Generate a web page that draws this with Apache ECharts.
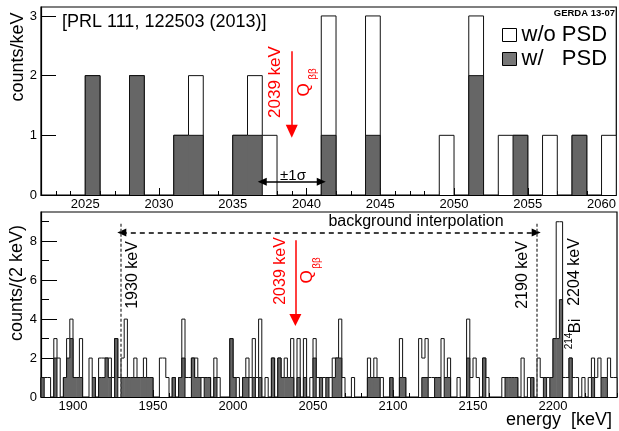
<!DOCTYPE html>
<html>
<head>
<meta charset="utf-8">
<script src="https://cdn.jsdelivr.net/npm/echarts@6/dist/echarts.min.js"></script>
<style>
html, body { margin: 0; padding: 0; background: #fff; }
#chart { width: 619px; height: 431px; }
</style>
</head>
<body>
<div id="chart"></div>
<script>
// top panel, 1 keV bins (lower edge) around Qbb
var topBins    = [2025, 2028, 2031, 2032, 2035, 2036, 2037, 2041, 2044, 2049, 2051, 2053, 2054, 2056, 2058, 2060];
var topNoPSD   = [2,    2,    1,    2,    1,    2,    1,    3,    3,    1,    3,    1,    1,    1,    1,    1];
var topWithPSD = [2,    2,    1,    1,    1,    1,    0,    1,    1,    0,    2,    0,    1,    0,    1,    0];

// bottom panel, 2 keV bins (lower edge), only non-empty bins
var botBins = [1880, 1882, 1884, 1888, 1890, 1894, 1896, 1898, 1900, 1902, 1904, 1910, 1912, 1916, 1918, 1920,
  1922, 1924, 1926, 1928, 1930, 1932, 1934, 1936, 1938, 1940, 1942, 1944, 1946, 1948, 1954, 1956,
  1958, 1962, 1966, 1968, 1970, 1972, 1974, 1976, 1978, 1980, 1982, 1984, 1988, 1990, 1998, 2000,
  2002, 2006, 2008, 2010, 2012, 2014, 2016, 2020, 2024, 2028, 2030, 2032, 2034, 2036, 2040, 2044,
  2048, 2050, 2052, 2054, 2056, 2058, 2060, 2062, 2064, 2066, 2068, 2074, 2084, 2086, 2088, 2090,
  2092, 2098, 2104, 2106, 2116, 2118, 2120, 2122, 2124, 2126, 2128, 2130, 2132, 2134, 2140, 2146,
  2148, 2150, 2152, 2156, 2158, 2168, 2170, 2172, 2174, 2176, 2180, 2184, 2186, 2190, 2192, 2194,
  2196, 2198, 2200, 2202, 2204, 2206, 2208, 2210, 2212, 2214, 2218, 2222, 2224, 2226, 2228, 2230,
  2232, 2234, 2236, 2238];
var botNoPSD = [1, 1, 1, 3, 2, 1, 3, 4, 1, 1, 3, 2, 1, 2, 2, 2,
  2, 1, 3, 1, 2, 4, 1, 1, 2, 1, 1, 2, 1, 1, 2, 2,
  1, 1, 1, 4, 1, 1, 2, 2, 1, 1, 1, 1, 2, 1, 3, 1,
  1, 1, 2, 1, 3, 1, 4, 1, 2, 2, 1, 2, 1, 3, 3, 3,
  1, 3, 1, 1, 1, 1, 1, 2, 2, 4, 1, 1, 2, 1, 2, 1,
  1, 1, 3, 1, 3, 2, 3, 1, 1, 1, 1, 3, 1, 2, 1, 4,
  1, 2, 1, 2, 1, 1, 1, 1, 1, 1, 2, 1, 1, 2, 1, 1,
  1, 1, 3, 9, 9, 1, 1, 2, 1, 1, 1, 1, 2, 1, 2, 1,
  1, 2, 1, 1];
var botWithPSD = [1, 0, 0, 2, 0, 1, 2, 3, 1, 1, 1, 0, 1, 1, 1, 2,
  1, 0, 3, 0, 1, 1, 1, 1, 1, 1, 1, 1, 1, 1, 0, 0,
  0, 1, 1, 2, 0, 0, 2, 1, 1, 0, 1, 1, 1, 0, 3, 1,
  0, 1, 1, 0, 1, 0, 1, 0, 2, 2, 1, 1, 1, 1, 1, 1,
  0, 2, 0, 1, 0, 1, 0, 1, 2, 2, 0, 0, 1, 1, 1, 1,
  0, 1, 1, 1, 0, 1, 1, 0, 0, 1, 1, 0, 1, 1, 0, 2,
  0, 0, 0, 2, 0, 0, 1, 1, 1, 1, 0, 0, 1, 0, 0, 1,
  0, 1, 3, 3, 5, 0, 0, 2, 0, 0, 0, 0, 1, 0, 0, 1,
  1, 0, 0, 0];

var topTicks = [2025, 2030, 2035, 2040, 2045, 2050, 2055, 2060];
var botTicks = [1900, 1950, 2000, 2050, 2100, 2150, 2200];
var topYTicks = [0, 1, 2, 3];
var botYTicks = [0, 2, 4, 6, 8];
var botYMinor = [1, 3, 5, 7, 9];

var topMinor = [];
for (var e = 2023; e <= 2060; e++) topMinor.push(e);
var botMinor = [];
for (var f = 1890; f <= 2240; f += 10) botMinor.push(f);

var FONT = "'Liberation Sans', Arial, sans-serif";

function pairs(xs, ys) {
  return xs.map(function (x, i) { return [x, ys[i]]; });
}

// ROOT-like step histogram: filled bins with a single outline
function histItem(bins, counts, binW, fill) {
  var map = {};
  bins.forEach(function (b, i) { map[b] = counts[i]; });
  return function (params, api) {
    var x0 = api.value(0), c = api.value(1);
    if (!c) return null;
    var prev = map[x0 - binW] || 0, next = map[x0 + binW] || 0;
    var tl = api.coord([x0, c]);
    var br = api.coord([x0 + binW, 0]);
    var yPrev = api.coord([x0, prev])[1];
    var pts = [[tl[0], yPrev], [tl[0], tl[1]], [br[0], tl[1]]];
    if (!next) pts.push([br[0], br[1]]);
    // overlap into the next bin a little so no seam shows between fills
    var w = br[0] - tl[0] + (next ? 0.6 : 0);
    return {
      type: 'group',
      children: [
        { type: 'rect', shape: { x: tl[0], y: tl[1], width: w, height: br[1] - tl[1] }, style: { fill: fill } },
        { type: 'polyline', shape: { points: pts }, style: { stroke: '#111', lineWidth: 1, fill: null } }
      ]
    };
  };
}

function plain(v) { return String(v); }

function mainX(grid, min, max, ticks) {
  return {
    type: 'value', gridIndex: grid, min: min, max: max, position: 'bottom',
    axisLine: { show: true, lineStyle: { color: '#000', width: 1.2 } },
    axisTick: { show: true, inside: true, length: 7, customValues: ticks, lineStyle: { color: '#000' } },
    axisLabel: { customValues: ticks, formatter: plain, color: '#000', fontSize: 13, fontFamily: FONT, margin: 3 },
    splitLine: { show: false }
  };
}
function minorX(grid, min, max, ticks) {
  return {
    type: 'value', gridIndex: grid, min: min, max: max, position: 'bottom',
    axisLine: { show: false },
    axisTick: { show: true, inside: true, length: 4, customValues: ticks, lineStyle: { color: '#000' } },
    axisLabel: { show: false },
    splitLine: { show: false }
  };
}
function yAx(grid, max, ticks, len, labels) {
  return {
    type: 'value', gridIndex: grid, min: 0, max: max, position: 'left',
    axisLine: { show: !!labels, lineStyle: { color: '#000', width: 1.2 } },
    axisTick: { show: true, inside: true, length: len, customValues: ticks, lineStyle: { color: '#000' } },
    axisLabel: labels ? { customValues: ticks, formatter: plain, color: '#000', fontSize: 13, fontFamily: FONT, margin: 4 } : { show: false },
    splitLine: { show: false }
  };
}

function arrowLine(from, to, color, type, syms, size) {
  return {
    silent: true,
    symbol: syms,
    symbolSize: size,
    label: { show: false },
    lineStyle: { color: color, type: type, width: 1.5 },
    data: [[{ coord: from }, { coord: to }]]
  };
}

var chart = echarts.init(document.getElementById('chart'), null, { renderer: 'canvas' });

var red = '#ff0000';
function vtext(x, y, txt, size, color, extra) {
  var s = { text: txt, fontSize: size, fontFamily: FONT, fill: color || '#000', align: 'center', verticalAlign: 'middle' };
  if (extra) for (var k in extra) s[k] = extra[k];
  return { type: 'text', x: x, y: y, rotation: Math.PI / 2, style: s, z: 100 };
}
function htext(x, y, txt, size, extra) {
  var s = { text: txt, fontSize: size, fontFamily: FONT, fill: '#000', align: 'left', verticalAlign: 'middle' };
  if (extra) for (var k in extra) s[k] = extra[k];
  return { type: 'text', x: x, y: y, style: s, z: 100 };
}

chart.setOption({
  animation: false,
  backgroundColor: '#fff',
  grid: [
    { left: 41, right: 2, top: 7, bottom: 236, show: true, borderColor: '#000', borderWidth: 1.2, backgroundColor: 'transparent' },
    { left: 41, right: 2, top: 212, bottom: 34, show: true, borderColor: '#000', borderWidth: 1.2, backgroundColor: 'transparent' }
  ],
  legend: {
    left: 497, top: 19, orient: 'vertical', itemWidth: 14, itemHeight: 13, itemGap: 2,
    textStyle: { fontSize: 22, fontFamily: FONT, color: '#000' },
    selectedMode: false,
    data: [
      { name: 'w/o PSD', icon: 'rect', itemStyle: { color: '#fff', borderColor: '#000', borderWidth: 1 } },
      { name: 'w/   PSD', icon: 'rect', itemStyle: { color: '#777', borderColor: '#000', borderWidth: 1 } }
    ]
  },
  xAxis: [
    mainX(0, 2022, 2061, topTicks),
    minorX(0, 2022, 2061, topMinor),
    mainX(1, 1880, 2240, botTicks),
    minorX(1, 1880, 2240, botMinor)
  ],
  yAxis: [
    yAx(0, 3.15, topYTicks, 15, true),
    yAx(1, 9.5, botYTicks, 16, true),
    yAx(1, 9.5, botYMinor, 8, false)
  ],
  series: [
    { name: 'w/o PSD', type: 'custom', xAxisIndex: 0, yAxisIndex: 0, renderItem: histItem(topBins, topNoPSD, 1, '#fff'),
      itemStyle: { color: '#fff' }, data: pairs(topBins, topNoPSD) },
    { name: 'w/   PSD', type: 'custom', xAxisIndex: 0, yAxisIndex: 0, renderItem: histItem(topBins, topWithPSD, 1, '#666'),
      itemStyle: { color: '#666' }, data: pairs(topBins, topWithPSD) },
    { name: 'w/o PSD', type: 'custom', xAxisIndex: 2, yAxisIndex: 1, renderItem: histItem(botBins, botNoPSD, 2, '#fff'),
      itemStyle: { color: '#fff' }, data: pairs(botBins, botNoPSD) },
    { name: 'w/   PSD', type: 'custom', xAxisIndex: 2, yAxisIndex: 1, renderItem: histItem(botBins, botWithPSD, 2, '#666'),
      itemStyle: { color: '#666' }, data: pairs(botBins, botWithPSD) },
    // annotation lines, top panel
    { type: 'line', xAxisIndex: 0, yAxisIndex: 0, data: [], z: 5,
      markLine: arrowLine([2039, 2.41], [2039, 1.07], red, 'solid', ['none', 'triangle'], [12, 13]) },
    { type: 'line', xAxisIndex: 0, yAxisIndex: 0, data: [], z: 5,
      markLine: arrowLine([2037, 0.22], [2041, 0.22], '#000', 'solid', ['triangle', 'triangle'], [8, 9]) },
    // annotation lines, bottom panel
    { type: 'line', xAxisIndex: 2, yAxisIndex: 1, data: [], z: 5,
      markLine: arrowLine([2039, 8.05], [2039, 3.95], red, 'solid', ['none', 'triangle'], [12, 12]) },
    { type: 'line', xAxisIndex: 2, yAxisIndex: 1, data: [], z: 5,
      markLine: arrowLine([1930.5, 8.45], [2189.5, 8.45], '#000', [5, 4], ['triangle', 'triangle'], [8, 9]) },
    { type: 'line', xAxisIndex: 2, yAxisIndex: 1, data: [], z: 5,
      markLine: arrowLine([1930, 8.9], [1930, 0], '#555', [3, 2], ['none', 'none'], 0) },
    { type: 'line', xAxisIndex: 2, yAxisIndex: 1, data: [], z: 5,
      markLine: arrowLine([2190, 8.9], [2190, 0], '#555', [3, 2], ['none', 'none'], 0) }
  ],
  graphic: [
    htext(62, 22, '[PRL 111, 122503 (2013)]', 18),
    htext(615, 13, 'GERDA 13-07', 9.5, { align: 'right', fontWeight: 'bold' }),
    vtext(18, 57, 'counts/keV', 18),
    vtext(17, 283, 'counts/(2 keV)', 18),
    htext(612, 420, 'energy  [keV]', 18, { align: 'right' }),
    htext(293, 176, '\u00b11\u03c3', 15, { align: 'center' }),
    vtext(275, 82, '2039 keV', 17, red),
    vtext(304, 90, 'Q', 17, red),
    vtext(313, 74, '\u03b2\u03b2', 10, red),
    vtext(281, 271, '2039 keV', 16, red),
    vtext(307, 277, 'Q', 17, red),
    vtext(317, 263, '\u03b2\u03b2', 10, red),
    htext(416, 222, 'background interpolation', 16, { align: 'center' }),
    vtext(133, 275, '1930 keV', 16),
    vtext(523, 275, '2190 keV', 16),
    vtext(575, 272, '2204 keV', 16),
    vtext(575, 326, 'Bi', 17),
    vtext(569, 341, '214', 10)
  ]
});
</script>
</body>
</html>
